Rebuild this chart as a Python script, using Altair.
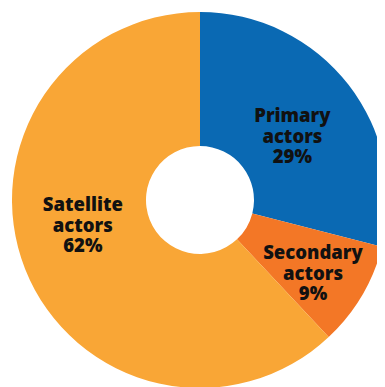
import altair as alt
import pandas as pd

categories = ["Primary", "Secondary", "Satellite"]
label_text = ["Primary\nactors", "Secondary\nactors", "Satellite\nactors"]
shares = [29, 9, 62]
order = [1, 2, 3]
colors = ["#0a69b3", "#f37726", "#f9a636"]

df = pd.DataFrame({"category": categories, "label": label_text,
                   "value": shares, "order": order})

color_scale = alt.Scale(domain=categories, range=colors)

base = alt.Chart(df).encode(
    x=alt.value(192), y=alt.value(192)
)

arcs = base.mark_arc(outerRadius=188, innerRadius=54).encode(
    theta=alt.Theta("value:Q", stack=True, scale=alt.Scale(domain=[0, 100])),
    order=alt.Order("order:Q"),
    color=alt.Color("category:N", scale=color_scale, legend=None),
)

def text_layer(cat, radius, theta_off):
    return base.transform_window(
        cum="sum(value)", sort=[alt.SortField("order")],
        frame=[None, 0]
    ).transform_calculate(
        mid="datum.cum - datum.value / 2",
        txt="datum.label + '\\n' + datum.value + '%'"
    ).transform_filter(
        alt.datum.category == cat
    ).mark_text(
        radius=radius, thetaOffset=theta_off, font="Open Sans",
        fontWeight=800, fontSize=18.5, lineHeight=20.5, lineBreak="\n",
        dy=-20.5,
        color="#111111", align="center", baseline="middle"
    ).encode(
        theta=alt.Theta("mid:Q", scale=alt.Scale(domain=[0, 100])),
        text="txt:N",
    )

chart = alt.layer(
    arcs,
    text_layer("Primary", 112, 0.059),
    text_layer("Secondary", 135, 0.045),
    text_layer("Satellite", 120, 0.159),
).properties(
    width=369, height=379, padding=0,
    autosize=alt.AutoSizeParams(type="none"),
).configure_view(stroke=None)

chart.save("out.html", embed_options={"renderer": "svg", "actions": False})
